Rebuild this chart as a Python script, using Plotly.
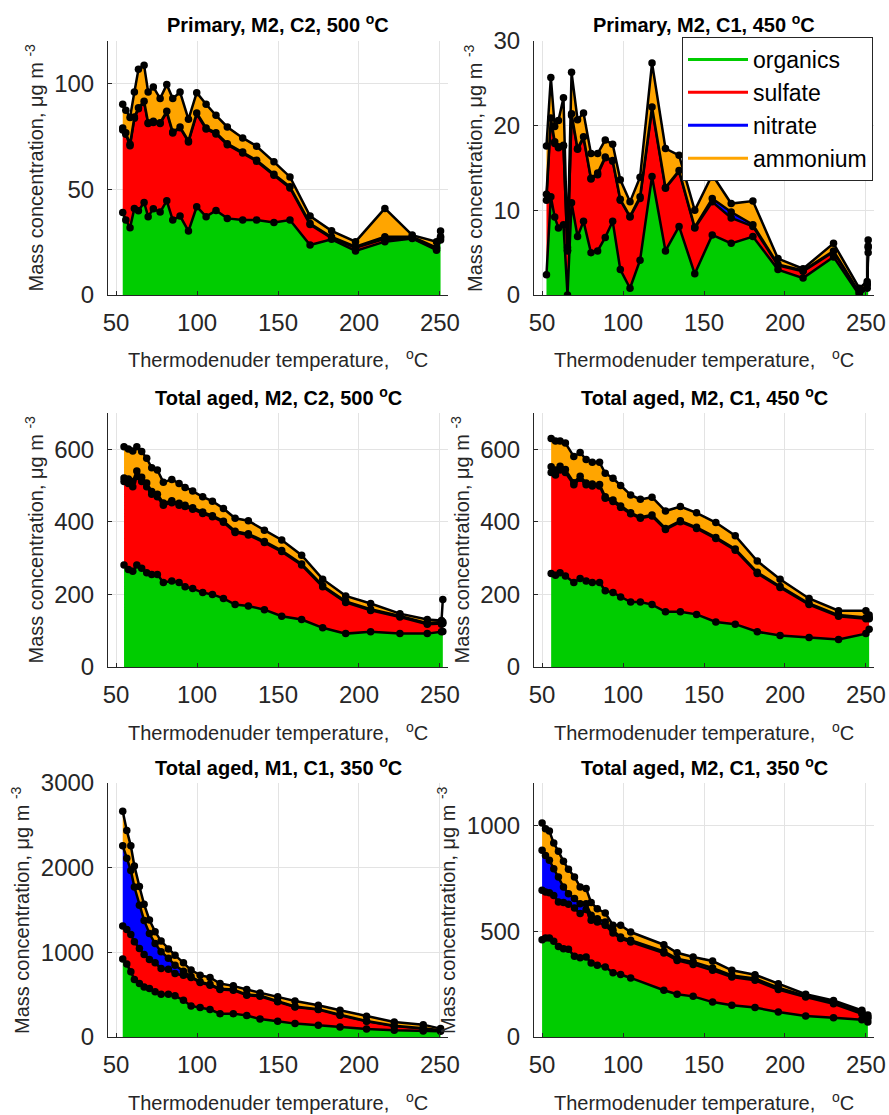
import plotly.graph_objects as go

FONT = "Liberation Sans, Arial, Helvetica, sans-serif"
W, H = 889, 1115

species = ["organics", "sulfate", "nitrate", "ammonium"]
fill_colors = ["rgb(0,204,0)", "rgb(255,0,0)", "rgb(0,0,255)", "rgb(255,165,0)"]

titles = ["Primary, M2, C2, 500 <sup>o</sup>C",
          "Primary, M2, C1, 450 <sup>o</sup>C",
          "Total aged, M2, C2, 500 <sup>o</sup>C",
          "Total aged, M2, C1, 450 <sup>o</sup>C",
          "Total aged, M1, C1, 350 <sup>o</sup>C",
          "Total aged, M2, C1, 350 <sup>o</sup>C"]

x_ticks = [50, 100, 150, 200, 250]
y_ticks = [[0, 50, 100], [0, 10, 20, 30], [0, 200, 400, 600],
           [0, 200, 400, 600], [0, 1000, 2000, 3000], [0, 500, 1000]]
y_max = [120, 30, 700, 700, 3000, 1200]

# ---- Panel 1: Primary, M2, C2, 500 C
p1_temp = [54.1, 56.0, 58.6, 61.3, 63.8, 67.3, 69.8, 73.0, 77.2, 81.3, 85.0, 89.5, 94.7, 99.8,
           105.6, 111.7, 118.7, 128.2, 136.8, 147.5, 157.4, 169.8, 183.1, 197.9, 216.0, 232.9, 247.9, 250.4]
p1_org = [39.0, 35.4, 31.8, 40.9, 39.8, 43.7, 37.0, 40.7, 39.2, 44.5, 35.4, 37.3, 30.2, 41.7,
          37.0, 39.9, 36.2, 35.4, 35.4, 34.3, 35.4, 23.6, 26.3, 20.8, 25.2, 26.7, 21.2, 26.0]
p1_sulf = [39.0, 40.6, 38.7, 42.6, 48.2, 47.3, 44.0, 40.8, 41.8, 41.8, 41.1, 41.7, 42.1, 43.8,
           41.4, 36.2, 34.8, 31.7, 27.8, 22.3, 15.2, 9.7, 0.6, 1.5, 1.3, 0.2, 0.6, 1.0]
p1_nitr = [0.9, 0.6, 0.7, 0.6, 0.5, 0.5, 0.4, 0.6, 0.4, 0.5, 0.5, 0.4, 0.5, 0.5,
           0.5, 0.5, 0.5, 0.5, 0.5, 0.5, 0.5, 0.5, 0.5, 0.5, 1.0, 0.6, 0.6, 0.6]
p1_amm = [11.2, 10.7, 12.6, 11.8, 18.1, 17.0, 14.5, 16.2, 11.4, 12.6, 15.8, 16.5, 10.2, 9.6,
          11.2, 8.3, 7.9, 6.6, 6.6, 5.8, 4.7, 3.5, 2.9, 2.4, 13.4, 0.8, 2.8, 2.6]

# ---- Panel 2: Primary, M2, C1, 450 C
p2_temp = [52.7, 55.4, 57.8, 60.1, 63.2, 65.7, 68.2, 71.9, 75.6, 80.2, 84.3, 89.0, 93.6, 98.3, 104.3,
           110.5, 117.9, 126.2, 134.6, 144.3, 155.1, 166.8, 180.2, 195.7, 211.2, 230.0, 245.9, 250.8, 251.4]
p2_org = [2.4, 11.6, 9.2, 7.9, 8.3, 0.0, 10.9, 6.9, 8.7, 5.0, 5.2, 6.8, 8.7, 3.0, 0.8,
          4.1, 14.0, 5.2, 8.1, 2.5, 7.1, 6.1, 6.9, 3.0, 2.0, 4.5, 0.0, 0.8, 5.0]
p2_sulf = [8.8, 9.1, 8.7, 9.5, 9.3, 5.2, 10.3, 10.3, 9.8, 8.7, 9.0, 9.4, 7.1, 8.2, 8.4,
           7.3, 8.0, 7.4, 6.5, 5.4, 3.9, 3.0, 1.2, 0.5, 0.8, 0.6, 0.3, 0.4, 0.6]
p2_nitr = [0.7, 0.2, 0.2, 0.1, 0.1, 0.1, 0.2, 0.1, 0.2, 0.1, 0.2, 0.1, 0.1, 0.1, 0.1,
           0.2, 0.2, 0.1, 0.1, 0.1, 0.4, 0.7, 0.2, 0.1, 0.1, 0.1, 0.0, 0.1, 0.2]
p2_amm = [5.7, 4.8, 1.8, 3.1, 5.6, 0.3, 4.9, 3.4, 2.8, 2.9, 2.3, 2.0, 1.9, 2.3, 1.7,
          2.3, 5.2, 4.6, 1.8, 2.0, 2.8, 1.0, 2.8, 0.7, 0.2, 0.9, 0.5, 0.3, 0.7]

# ---- Panel 3: Total aged, M2, C2, 500 C
p3_temp = [54.9, 57.6, 60.3, 62.8, 65.8, 68.9, 72.0, 75.5, 79.2, 84.4, 88.9, 92.6, 97.3, 103.5,
           109.5, 116.3, 123.5, 131.7, 141.6, 152.3, 164.6, 177.6, 191.8, 207.2, 225.3, 242.2, 251.0, 251.8]
p3_org = [281, 269, 264, 281, 272, 260, 255, 255, 233, 237, 233, 221, 216, 205,
          200, 189, 172, 168, 158, 140, 131, 108, 92, 97, 92, 92, 97, 98]
p3_sulf = [230, 237, 233, 244, 239, 237, 221, 214, 213, 216, 213, 221, 219, 218,
           214, 210, 199, 196, 185, 178, 150, 113, 86, 59, 46, 26, 21, 22]
p3_nitr = [10, 12, 14, 15, 12, 10, 8, 7, 6, 5, 5, 4, 4, 4,
           3, 3, 3, 3, 3, 3, 3, 3, 3, 3, 3, 3, 4, 4]
p3_amm = [86, 83, 84, 67, 71, 68, 65, 67, 57, 59, 55, 49, 46, 42,
          40, 35, 36, 36, 31, 29, 24, 18, 15, 16, 6, 10, 6, 62]

# ---- Panel 4: Total aged, M2, C1, 450 C
p4_temp = [55.6, 58.3, 61.1, 64.4, 69.6, 73.5, 77.2, 81.0, 85.5, 89.0, 93.8, 98.5, 104.7,
           110.7, 117.9, 126.2, 135.4, 145.4, 157.3, 169.3, 182.9, 197.0, 214.9, 233.1, 250.0, 252.0]
p4_org = [258, 253, 260, 251, 233, 244, 237, 233, 233, 210, 205, 193, 179,
          179, 172, 152, 152, 145, 124, 118, 97, 87, 81, 76, 92, 104]
p4_sulf = [278, 276, 283, 285, 269, 276, 265, 266, 266, 255, 251, 247, 243,
           231, 244, 227, 248, 237, 230, 204, 161, 132, 91, 64, 41, 29]
p4_nitr = [16, 14, 10, 8, 6, 6, 5, 5, 4, 4, 4, 4, 3,
           3, 3, 3, 3, 3, 3, 3, 3, 3, 3, 3, 3, 3]
p4_amm = [78, 80, 70, 73, 72, 65, 65, 60, 61, 65, 60, 56, 49,
          49, 49, 48, 39, 40, 41, 37, 31, 20, 14, 12, 19, 7]

# ---- Panel 5: Total aged, M1, C1, 350 C
p5_temp = [54.1, 56.6, 59.1, 61.3, 64.4, 67.3, 70.6, 74.1, 77.8, 82.3, 86.4, 91.6, 96.3, 101.9,
           108.0, 114.2, 122.4, 130.7, 138.9, 149.8, 160.5, 174.9, 188.3, 204.7, 221.8, 239.7, 250.4]
p5_org = [920, 861, 770, 679, 632, 592, 572, 533, 505, 505, 486, 434, 367, 347,
          324, 276, 276, 253, 213, 186, 158, 138, 118, 95, 79, 71, 67]
p5_sulf = [391, 410, 442, 446, 414, 383, 344, 343, 304, 296, 264, 296, 336, 296,
           288, 285, 277, 240, 269, 229, 197, 186, 139, 91, 51, 28, 12]
p5_nitr = [947, 839, 756, 646, 511, 402, 306, 228, 199, 129, 97, 46, 12, 10,
           10, 10, 9, 8, 8, 7, 6, 5, 5, 4, 3, 3, 2]
p5_amm = [407, 330, 290, 250, 220, 190, 160, 140, 125, 110, 120, 100, 75, 77,
          81, 61, 42, 60, 31, 52, 65, 46, 54, 55, 45, 44, 18]

# ---- Panel 6: Total aged, M2, C1, 350 C
p6_temp = [50.0, 52.1, 54.5, 57.2, 60.1, 63.2, 66.3, 70.0, 73.5, 77.2, 80.3, 84.1, 89.0, 93.8,
           98.5, 104.7, 125.2, 133.4, 143.3, 155.3, 167.2, 181.5, 195.9, 212.8, 230.0, 247.5, 251.2]
p6_org = [460, 468, 468, 452, 428, 417, 414, 381, 375, 378, 350, 339, 331, 304,
          295, 279, 221, 202, 192, 165, 150, 139, 118, 99, 91, 82, 71]
p6_sulf = [233, 217, 214, 217, 210, 218, 213, 228, 208, 224, 201, 204, 197, 187,
           170, 170, 176, 160, 151, 150, 133, 129, 106, 90, 66, 28, 16]
p6_nitr = [189, 173, 153, 126, 118, 74, 50, 45, 47, 28, 24, 16, 15, 13,
           7, 8, 8, 8, 11, 11, 8, 8, 9, 5, 8, 8, 7]
p6_amm = [129, 126, 138, 121, 121, 121, 115, 102, 79, 71, 60, 47, 43, 24,
          56, 39, 31, 28, 24, 33, 24, 18, 19, 8, 8, 8, 10]

panels = [
    (p1_temp, [p1_org, p1_sulf, p1_nitr, p1_amm]),
    (p2_temp, [p2_org, p2_sulf, p2_nitr, p2_amm]),
    (p3_temp, [p3_org, p3_sulf, p3_nitr, p3_amm]),
    (p4_temp, [p4_org, p4_sulf, p4_nitr, p4_amm]),
    (p5_temp, [p5_org, p5_sulf, p5_nitr, p5_amm]),
    (p6_temp, [p6_org, p6_sulf, p6_nitr, p6_amm]),
]

# pixel boxes of the six axes (left, right, top, bottom)
col_px = [(108, 448), (534, 874)]
row_px = [(41, 295), (413, 667), (783, 1037)]

fig = go.Figure()
annotations = []
layout_axes = {}

for i, (temp, series) in enumerate(panels):
    r, c = divmod(i, 2)
    n = i + 1
    xa = "x" if n == 1 else f"x{n}"
    ya = "y" if n == 1 else f"y{n}"
    for sp, vals, fc in zip(species, series, fill_colors):
        fig.add_trace(go.Scatter(
            x=temp, y=vals, name=sp, stackgroup=f"g{n}", mode="lines+markers",
            line=dict(color="black", width=2.5),
            marker=dict(color="black", size=7.5),
            fillcolor=fc, showlegend=False, xaxis=xa, yaxis=ya,
            hovertemplate=sp + ": %{y}<extra></extra>"))
    l, rr = col_px[c]
    t, b = row_px[r]
    axcommon = dict(showline=True, linecolor="#262626", linewidth=1, mirror=False,
                    showgrid=True, gridcolor="#e3e3e3", gridwidth=1, zeroline=False,
                    ticks="inside", ticklen=4, tickcolor="#262626", automargin=False,
                    tickfont=dict(family=FONT, size=24, color="#262626"))
    layout_axes["xaxis" if n == 1 else f"xaxis{n}"] = dict(
        axcommon, domain=[l / W, rr / W], range=[45, 255], tickvals=x_ticks,
        anchor=ya, ticklabelstandoff=6)
    layout_axes["yaxis" if n == 1 else f"yaxis{n}"] = dict(
        axcommon, domain=[1 - b / H, 1 - t / H], range=[0, y_max[i]], tickvals=y_ticks[i],
        anchor=xa, ticklabelstandoff=8)
    cx = (l + rr) / 2
    cy = (t + b) / 2
    annotations.append(dict(
        text="<b>" + titles[i] + "</b>", x=cx / W, y=1 - (t - 17) / H, xref="paper", yref="paper",
        xanchor="center", yanchor="middle", showarrow=False,
        font=dict(family=FONT, size=20, color="black")))
    annotations.append(dict(
        text="Thermodenuder temperature,   <sup>o</sup>C", x=cx / W, y=1 - (b + 64) / H,
        xref="paper", yref="paper", xanchor="center", yanchor="middle", showarrow=False,
        font=dict(family=FONT, size=20, color="#262626")))
    nd = len(str(max(y_ticks[i])))
    annotations.append(dict(
        text="Mass concentration, \u03bcg m <sup>-3</sup>", x=(l - (34 + 13.5 * nd)) / W, y=1 - cy / H,
        xref="paper", yref="paper", xanchor="center", yanchor="middle", showarrow=False,
        textangle=-90, font=dict(family=FONT, size=20, color="#262626")))

# legend entries (line samples)
for sp, fc in zip(species, fill_colors):
    fig.add_trace(go.Scatter(x=[None], y=[None], mode="lines", name=sp,
                             line=dict(color=fc, width=3), xaxis="x2", yaxis="y2",
                             showlegend=True))

fig.update_layout(
    width=W, height=H, autosize=False,
    margin=dict(l=0, r=0, t=0, b=0),
    paper_bgcolor="white", plot_bgcolor="white",
    annotations=annotations,
    legend=dict(x=682 / W, y=1 - 37 / H, xanchor="left", yanchor="top",
                bgcolor="white", bordercolor="#262626", borderwidth=1,
                font=dict(family=FONT, size=23, color="black"),
                traceorder="normal", itemwidth=60, tracegroupgap=0),
    **layout_axes,
)

fig.write_html("out.html", config={"displayModeBar": False},
               post_script="document.body.style.margin='0';document.body.style.overflow='hidden';")
